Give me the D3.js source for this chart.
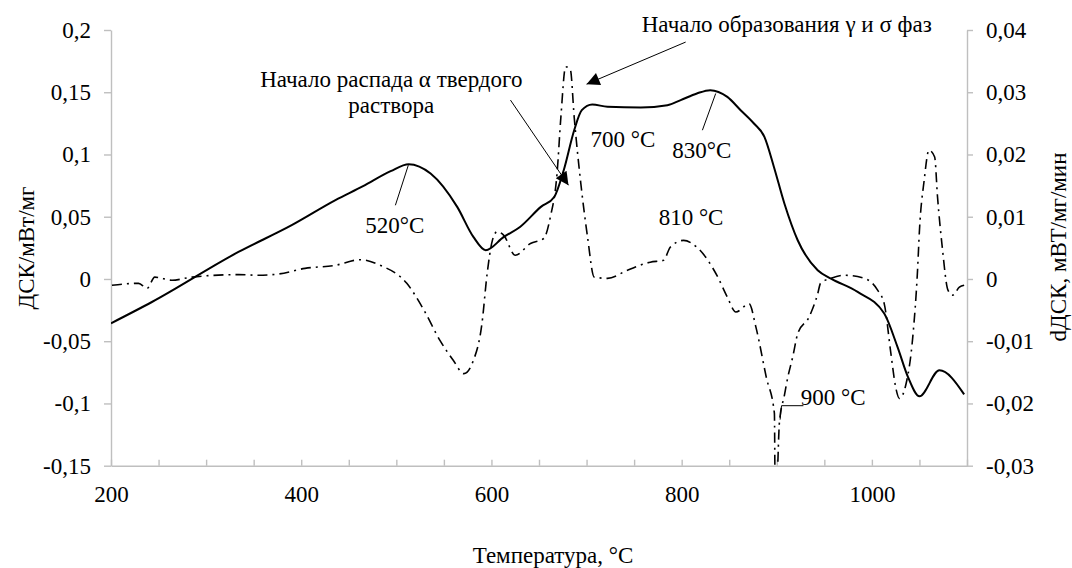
<!DOCTYPE html>
<html>
<head>
<meta charset="utf-8">
<script src="https://cdn.jsdelivr.net/npm/d3@7"></script>
<style>
  body { margin: 0; background: #fff; }
  svg text { font-family: "Liberation Serif", serif !important; }
</style>
</head>
<body>
<svg id="chart" width="1072" height="568" font-family="Liberation Serif"></svg>
<script>
// ДСК curve (left axis)
const dscTemp = [200, 243, 334, 390, 436, 465, 494, 513, 536, 564, 581, 594, 613, 630, 652, 666, 676, 687, 695, 706, 722, 757, 785, 799, 816, 830, 848, 862, 876, 887, 897, 908, 922, 943, 957, 985, 1013, 1027, 1038, 1050, 1071, 1097];
const dscValues = [-0.0356, -0.0185, 0.0217, 0.0432, 0.0633, 0.0745, 0.0866, 0.0922, 0.0847, 0.0579, 0.0338, 0.0231, 0.0338, 0.0418, 0.0579, 0.0659, 0.0874, 0.1195, 0.1356, 0.1402, 0.1383, 0.1378, 0.1396, 0.1437, 0.149, 0.1517, 0.1463, 0.1356, 0.1249, 0.1141, 0.09, 0.0606, 0.0311, 0.007, 0.0003, -0.0104, -0.0278, -0.0547, -0.0788, -0.0943, -0.0734, -0.0927];

// dДСК curve (right axis)
const ddscTemp = [201, 229, 238, 246, 264, 285, 334, 355, 376, 404, 436, 462, 483, 511, 529, 546, 560, 571, 581, 590, 595.5, 601, 606, 613, 625, 641, 655, 662, 669, 673, 678, 683, 687, 694, 701, 708, 722, 743, 767, 781, 788, 802, 816, 838, 848, 857, 871, 878, 889, 897.5, 898.3, 899.6, 902.8, 908, 911.6, 916.8, 922, 934, 943, 946, 957, 971, 992, 1006, 1013, 1020, 1025, 1029, 1036, 1043, 1048, 1050, 1055, 1060, 1066, 1069, 1074, 1080, 1085, 1092, 1097];
const ddscValues = [-0.001, -0.0007, -0.0015, 0.0003, -0.0002, 0.0003, 0.0007, 0.0006, 0.0008, 0.0017, 0.0022, 0.0031, 0.0022, -0.0007, -0.005, -0.0099, -0.0131, -0.0152, -0.0131, -0.0072, 0.0009, 0.0062, 0.0076, 0.007, 0.0038, 0.0057, 0.0065, 0.01, 0.017, 0.026, 0.0341, 0.0336, 0.026, 0.0153, 0.0068, 0.0003, 0.0001, 0.0014, 0.0027, 0.003, 0.0051, 0.0062, 0.0051, 0.0003, -0.0029, -0.0053, -0.004, -0.0077, -0.0158, -0.0216, -0.034, -0.034, -0.023, -0.0187, -0.0158, -0.0125, -0.0088, -0.0061, -0.0024, -0.0007, 0.0001, 0.0006, 0.0001, -0.0018, -0.004, -0.012, -0.0174, -0.0192, -0.0168, -0.0093, 0.0014, 0.0078, 0.0159, 0.0207, 0.0196, 0.0132, 0.0051, -0.0018, -0.0026, -0.0013, -0.001];

const leftTicks = [-0.15, -0.1, -0.05, 0, 0.05, 0.1, 0.15, 0.2];
const leftTickLabels = ["-0,15", "-0,1", "-0,05", "0", "0,05", "0,1", "0,15", "0,2"];
const rightTicks = [-0.03, -0.02, -0.01, 0, 0.01, 0.02, 0.03, 0.04];
const rightTickLabels = ["-0,03", "-0,02", "-0,01", "0", "0,01", "0,02", "0,03", "0,04"];
const xTicks = d3.range(200, 1101, 50);
const xTickLabels = [200, 400, 600, 800, 1000];

// annotation texts, anchored in data units (temperature, left-axis value)
const labelTexts = ["520°C", "700 °C", "830°C", "810 °C", "900 °C"];
const labelAt = [[467.4, 0.0367], [704.2, 0.1059], [790.2, 0.097], [775.8, 0.0432], [925.3, -0.1015]];
const leaderLines = [
  [[499, 0.0592], [512.6, 0.0914]],
  [[821.8, 0.1195], [835.8, 0.149]],
  [[928, -0.1018], [905, -0.1018], [903.5, -0.113]]
];
const arrowLines = [
  [[804.2, 0.1903], [700, 0.1565]],
  [[620, 0.1437], [681, 0.0753]]
];
const noteTop = "Начало образования γ и σ фаз";
const noteTopAt = [910.5, 0.1986];
const noteLeft = ["Начало распада α твердого", "раствора"];
const noteLeftAt = [[494.7, 0.1539], [494.7, 0.1332]];

const width = 1072, height = 568;
const margin = { left: 111, right: 105, top: 30, bottom: 102.3 };
const fontFamily = '"Liberation Serif"';
const fontSize = "23px";
const svg = d3.select("#chart");

const xScale = d3.scaleLinear().domain([200, 1100]).range([margin.left, width - margin.right]);
const yLeft = d3.scaleLinear().domain([-0.15, 0.2]).range([height - margin.bottom, margin.top]);
const yRight = d3.scaleLinear().domain([-0.03, 0.04]).range([height - margin.bottom, margin.top]);

const axisColor = "#bfbfbf";
function styleAxis(g) {
  g.attr("font-family", "Liberation Serif").attr("font-size", null);
  g.selectAll("path, line").attr("stroke", axisColor).attr("stroke-width", 1.4);
  g.selectAll("text")
    .style("font-family", fontFamily)
    .style("font-size", fontSize)
    .attr("fill", "#000");
}

// bottom axis: minor ticks pointing up, labels every 200
svg.append("g")
  .attr("transform", `translate(0,${yLeft(-0.15)})`)
  .call(d3.axisBottom(xScale).tickValues(xTicks).tickSize(-6).tickSizeOuter(0).tickPadding(20)
    .tickFormat(d => xTickLabels.includes(d) ? String(d) : ""))
  .call(styleAxis);

svg.append("g")
  .attr("transform", `translate(${margin.left},0)`)
  .call(d3.axisLeft(yLeft).tickValues(leftTicks).tickSize(7).tickSizeOuter(0).tickPadding(13)
    .tickFormat((d, i) => leftTickLabels[i]))
  .call(styleAxis);

svg.append("g")
  .attr("transform", `translate(${width - margin.right},0)`)
  .call(d3.axisRight(yRight).tickValues(rightTicks).tickSize(6).tickSizeOuter(0).tickPadding(13)
    .tickFormat((d, i) => rightTickLabels[i]))
  .call(styleAxis);

// clip to plot area
svg.append("clipPath").attr("id", "plot-clip")
  .append("rect")
  .attr("x", margin.left).attr("y", margin.top)
  .attr("width", width - margin.left - margin.right)
  .attr("height", height - margin.top - margin.bottom);

const plot = svg.append("g").attr("clip-path", "url(#plot-clip)");

const dscLine = d3.line()
  .x((d, i) => xScale(dscTemp[i]))
  .y(d => yLeft(d))
  .curve(d3.curveMonotoneX);

const ddscLine = d3.line()
  .x((d, i) => xScale(ddscTemp[i]))
  .y(d => yRight(d))
  .curve(d3.curveMonotoneX);

plot.append("path")
  .attr("d", ddscLine(ddscValues))
  .attr("fill", "none")
  .attr("stroke", "#000")
  .attr("stroke-width", 1.6)
  .attr("stroke-dasharray", "10,5,2,5");

plot.append("path")
  .attr("d", dscLine(dscValues))
  .attr("fill", "none")
  .attr("stroke", "#000")
  .attr("stroke-width", 2);

// arrow marker
svg.append("defs").append("marker")
  .attr("id", "arrow")
  .attr("viewBox", "0 0 10 10")
  .attr("refX", 10).attr("refY", 5)
  .attr("markerUnits", "userSpaceOnUse")
  .attr("markerWidth", 17).attr("markerHeight", 13)
  .attr("orient", "auto")
  .append("path")
  .attr("d", "M0,0L10,5L0,10Z")
  .attr("fill", "#000");

const pt = d => [xScale(d[0]), yLeft(d[1])];
const plainLine = d3.line();

svg.selectAll(".leader")
  .data(leaderLines)
  .join("path")
  .attr("class", "leader")
  .attr("d", d => plainLine(d.map(pt)))
  .attr("fill", "none")
  .attr("stroke", "#000")
  .attr("stroke-width", 1);

svg.selectAll(".arrow")
  .data(arrowLines)
  .join("path")
  .attr("class", "arrow")
  .attr("d", d => plainLine(d.map(pt)))
  .attr("fill", "none")
  .attr("stroke", "#000")
  .attr("stroke-width", 1)
  .attr("marker-end", "url(#arrow)");

function addText(sel) {
  return sel.style("font-family", fontFamily).style("font-size", fontSize).attr("fill", "#000");
}

svg.selectAll(".peak-label")
  .data(labelTexts)
  .join("text")
  .attr("class", "peak-label")
  .attr("x", (d, i) => xScale(labelAt[i][0]))
  .attr("y", (d, i) => yLeft(labelAt[i][1]))
  .call(addText)
  .text(d => d);

svg.append("text")
  .attr("x", xScale(noteTopAt[0]))
  .attr("y", yLeft(noteTopAt[1]))
  .attr("text-anchor", "middle")
  .call(addText)
  .text(noteTop);

svg.selectAll(".note-left")
  .data(noteLeft)
  .join("text")
  .attr("class", "note-left")
  .attr("x", (d, i) => xScale(noteLeftAt[i][0]))
  .attr("y", (d, i) => yLeft(noteLeftAt[i][1]))
  .attr("text-anchor", "middle")
  .call(addText)
  .text(d => d);

// axis titles
svg.append("text")
  .attr("transform", "translate(34,248) rotate(-90)")
  .attr("text-anchor", "middle")
  .call(addText)
  .text("ДСК/мВт/мг");

svg.append("text")
  .attr("transform", "translate(1066,247) rotate(-90)")
  .attr("text-anchor", "middle")
  .call(addText)
  .text("dДСК, мВТ/мг/мин");

svg.append("text")
  .attr("x", 553)
  .attr("y", 563)
  .attr("text-anchor", "middle")
  .call(addText)
  .text("Температура, °C");
</script>
</body>
</html>
